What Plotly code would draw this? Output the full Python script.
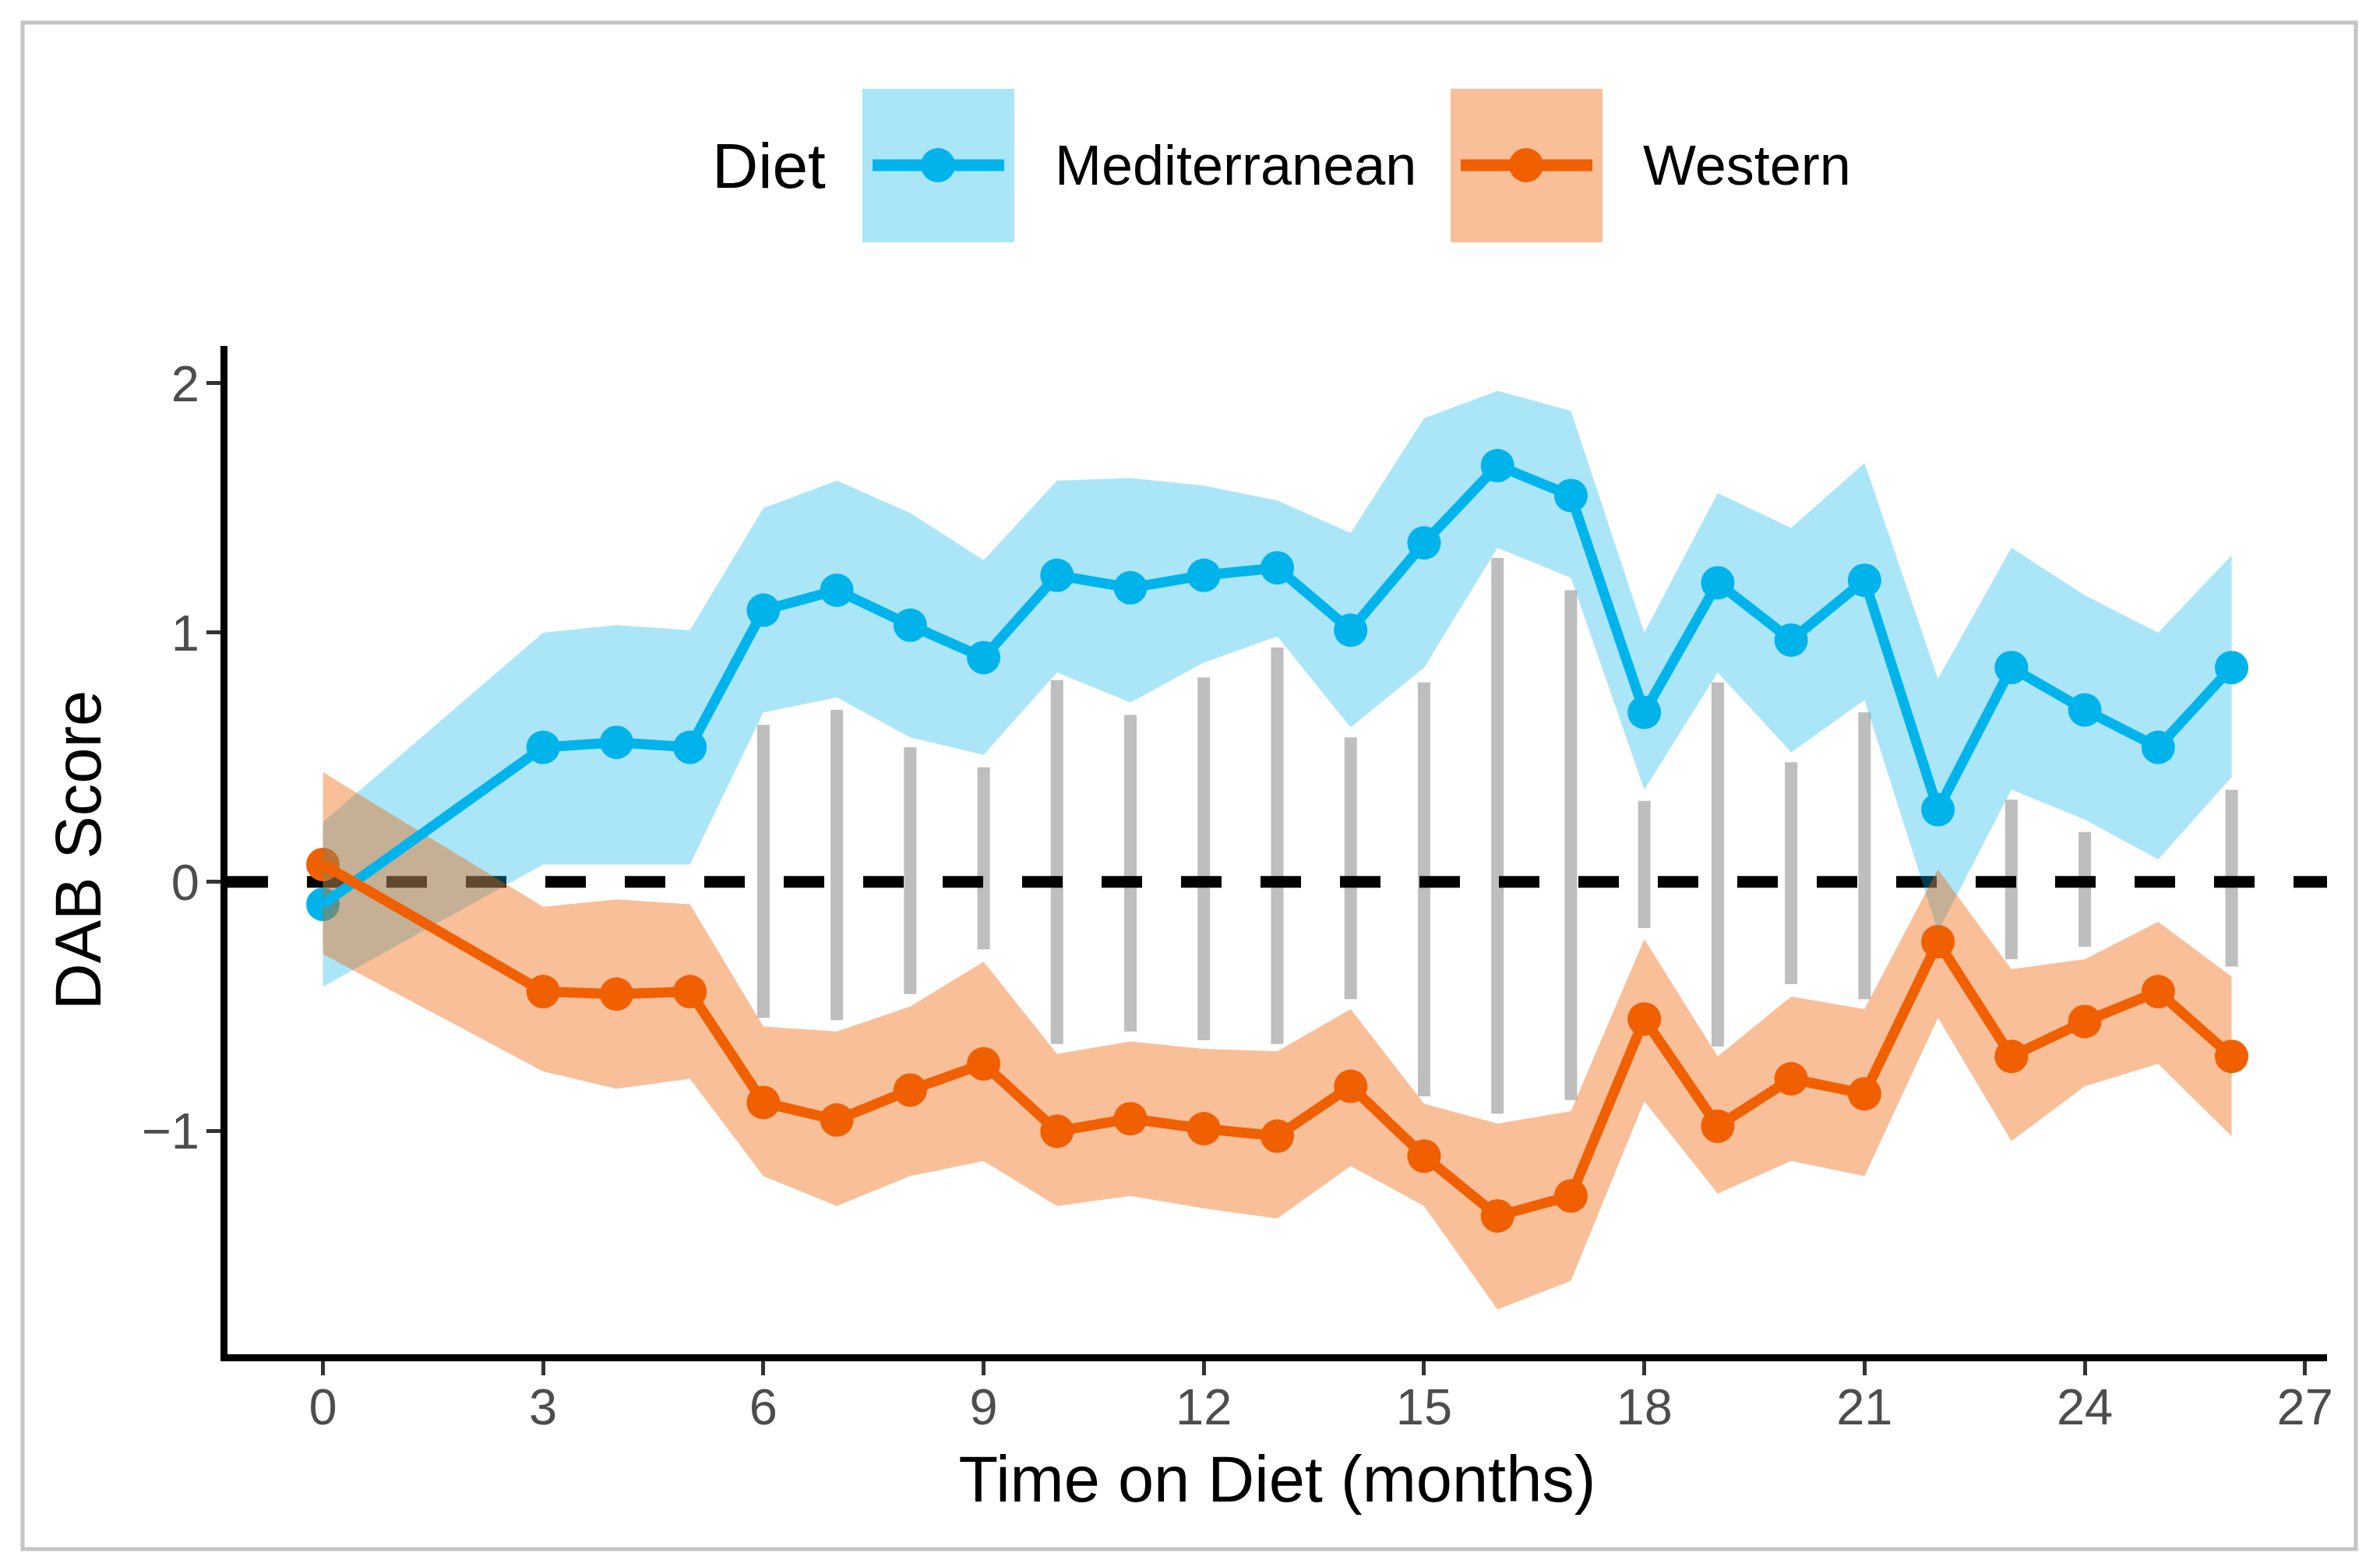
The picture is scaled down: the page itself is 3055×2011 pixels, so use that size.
import plotly.graph_objects as go

# ---- data ----
months = [0, 3, 4, 5, 6, 7, 8, 9, 10, 11, 12, 13, 14, 15, 16, 17, 18, 19, 20, 21, 22, 23, 24, 25, 26]

med_mean = [-0.09, 0.54, 0.56, 0.54, 1.09, 1.17, 1.03, 0.90, 1.23, 1.18, 1.23, 1.26, 1.01,
            1.36, 1.67, 1.55, 0.68, 1.20, 0.97, 1.21, 0.29, 0.86, 0.69, 0.54, 0.86]
med_upper = [0.24, 1.00, 1.03, 1.01, 1.50, 1.61, 1.48, 1.29, 1.61, 1.62, 1.59, 1.53, 1.40,
             1.86, 1.97, 1.89, 1.00, 1.56, 1.42, 1.68, 0.815, 1.34, 1.15, 1.00, 1.31]
med_lower = [-0.42, 0.07, 0.07, 0.07, 0.68, 0.74, 0.58, 0.51, 0.84, 0.72, 0.88, 0.985, 0.62,
             0.86, 1.34, 1.22, 0.37, 0.84, 0.52, 0.73, -0.20, 0.37, 0.25, 0.09, 0.42]

west_mean = [0.07, -0.44, -0.45, -0.44, -0.885, -0.955, -0.835, -0.73, -1.00, -0.95, -0.99, -1.02, -0.82,
             -1.10, -1.34, -1.26, -0.55, -0.98, -0.79, -0.85, -0.24, -0.70, -0.56, -0.44, -0.70]
west_upper = [0.44, -0.10, -0.07, -0.09, -0.58, -0.60, -0.50, -0.32, -0.69, -0.64, -0.67, -0.68, -0.51,
              -0.89, -0.97, -0.92, -0.23, -0.70, -0.46, -0.51, 0.05, -0.35, -0.31, -0.16, -0.38]
west_lower = [-0.29, -0.76, -0.83, -0.79, -1.18, -1.30, -1.18, -1.12, -1.30, -1.26, -1.31, -1.35, -1.14,
              -1.30, -1.715, -1.60, -0.88, -1.25, -1.12, -1.18, -0.545, -1.04, -0.82, -0.73, -1.02]

# grey difference bars
bar_months = [6, 7, 8, 9, 10, 11, 12, 13, 14, 15, 16, 17, 18, 19, 20, 21, 23, 24, 26]
bar_top = [0.63, 0.69, 0.54, 0.46, 0.81, 0.67, 0.82, 0.94, 0.58, 0.80, 1.30, 1.17, 0.325, 0.80,
           0.48, 0.68, 0.33, 0.20, 0.37]
bar_bottom = [-0.545, -0.555, -0.45, -0.27, -0.65, -0.60, -0.635, -0.65, -0.47, -0.86, -0.93, -0.875,
              -0.185, -0.66, -0.41, -0.47, -0.31, -0.26, -0.34]

diets = ['Mediterranean', 'Western']
x_ticks = [0, 3, 6, 9, 12, 15, 18, 21, 24, 27]
y_ticks = [-1, 0, 1, 2]
x_range = [-1.3, 27.3]
y_range = [-1.895, 2.15]

# ---- style ----
# the page body has an 8px margin, so the figure is shrunk by it on each side
OFF = 8
W, H = 3055 - 2 * OFF, 2011 - 2 * OFF
margin = dict(l=292 - OFF, r=3055 - 2987 - OFF, t=444 - OFF, b=2011 - 1738 - OFF)
font_family = 'Liberation Sans, Arial, sans-serif'
colors = {'Mediterranean': '#00B4EB', 'Western': '#F05F00'}
fills = {'Mediterranean': 'rgba(0,180,235,0.33)', 'Western': 'rgba(240,96,0,0.4)'}

series = {
    'Mediterranean': (med_mean, med_lower, med_upper),
    'Western': (west_mean, west_lower, west_upper),
}

pw = W - margin['l'] - margin['r']
ph = H - margin['t'] - margin['b']


def px_x(px):
    # screen x pixel -> paper x
    return (px - OFF - margin['l']) / pw


def px_y(py):
    # screen y pixel -> paper y
    return (H - margin['b'] - (py - OFF)) / ph


fig = go.Figure()

# grey bars
bx, by = [], []
for m, t, b in zip(bar_months, bar_top, bar_bottom):
    bx += [m, m, None]
    by += [b, t, None]
fig.add_trace(go.Scatter(x=bx, y=by, mode='lines', line=dict(color='#BEBEBE', width=16),
                         showlegend=False, hoverinfo='skip'))

# zero reference line
fig.add_trace(go.Scatter(x=x_range, y=[0, 0], mode='lines',
                         line=dict(color='black', width=15, dash='52px,50px'),
                         showlegend=False, hoverinfo='skip'))

# points (drawn under ribbons like the original)
for d in diets:
    mean = series[d][0]
    fig.add_trace(go.Scatter(x=months, y=mean, mode='markers',
                             marker=dict(color=colors[d], size=43),
                             showlegend=False))

# ribbons
for d in diets:
    mean, lo, hi = series[d]
    fig.add_trace(go.Scatter(x=months + months[::-1], y=hi + lo[::-1], mode='lines',
                             fill='toself', fillcolor=fills[d], line=dict(width=0),
                             showlegend=False, hoverinfo='skip'))

# lines
for d in diets:
    mean = series[d][0]
    fig.add_trace(go.Scatter(x=months, y=mean, mode='lines', name=d,
                             line=dict(color=colors[d], width=13), showlegend=False))

# ---- hand-made legend ----
shapes = []
annotations = []
leg_y = 212
annotations.append(dict(x=px_x(912), y=px_y(leg_y), xref='paper', yref='paper', text='Diet',
                        showarrow=False, xanchor='left', yanchor='middle',
                        font=dict(family=font_family, size=82, color='black')))
key_left = {'Mediterranean': 1107, 'Western': 1862}
for d in diets:
    kl = key_left[d]
    shapes.append(dict(type='rect', xref='paper', yref='paper',
                       x0=px_x(kl), x1=px_x(kl + 195), y0=px_y(311), y1=px_y(114),
                       fillcolor=fills[d], line=dict(width=0), layer='above'))
    shapes.append(dict(type='line', xref='paper', yref='paper',
                       x0=px_x(kl + 13), x1=px_x(kl + 182), y0=px_y(leg_y), y1=px_y(leg_y),
                       line=dict(color=colors[d], width=15), layer='above'))
    cx = kl + 97
    shapes.append(dict(type='circle', xref='paper', yref='paper',
                       x0=px_x(cx - 22), x1=px_x(cx + 22), y0=px_y(leg_y + 22), y1=px_y(leg_y - 22),
                       fillcolor=colors[d], line=dict(width=0), layer='above'))
    annotations.append(dict(x=px_x(kl + 245), y=px_y(leg_y), xref='paper', yref='paper', text=d,
                            showarrow=False, xanchor='left', yanchor='middle',
                            font=dict(family=font_family, size=72, color='black')))

# outer grey frame
shapes.append(dict(type='rect', xref='paper', yref='paper',
                   x0=px_x(29), x1=px_x(3024), y0=px_y(1988), y1=px_y(29),
                   line=dict(color='#C4C4C4', width=5), fillcolor='rgba(0,0,0,0)', layer='above'))

fig.update_layout(
    width=W, height=H,
    margin=margin,
    paper_bgcolor='white', plot_bgcolor='white',
    font=dict(family=font_family),
    showlegend=False,
    shapes=shapes,
    annotations=annotations,
)
fig.update_xaxes(range=x_range, tickvals=x_ticks, showgrid=False, zeroline=False,
                 showline=True, linecolor='black', linewidth=9,
                 ticks='outside', ticklen=18, tickwidth=5, tickcolor='#333333',
                 ticklabelstandoff=-15,
                 tickfont=dict(family=font_family, size=65, color='#4D4D4D'),
                 title=dict(text='Time on Diet (months)', standoff=31,
                            font=dict(family=font_family, size=83, color='black')))
fig.update_yaxes(range=y_range, tickvals=y_ticks, showgrid=False, zeroline=False,
                 showline=True, linecolor='black', linewidth=9,
                 ticks='outside', ticklen=18, tickwidth=5, tickcolor='#333333',
                 ticklabelstandoff=-4,
                 tickfont=dict(family=font_family, size=65, color='#4D4D4D'),
                 title=dict(text='DAB Score', standoff=28,
                            font=dict(family=font_family, size=83, color='black')))

fig.write_html('out.html')
